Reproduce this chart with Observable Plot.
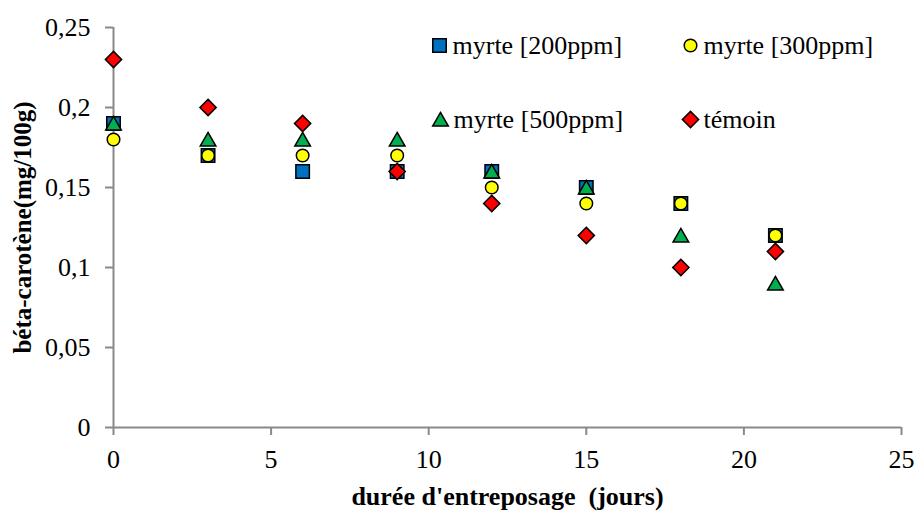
<!DOCTYPE html>
<html>
<head>
<meta charset="utf-8">
<script src="https://cdn.jsdelivr.net/npm/d3@7"></script>
<script src="https://cdn.jsdelivr.net/npm/@observablehq/plot@0.6"></script>
<style>
  html, body { margin: 0; padding: 0; background: #fff; }
  #chart { width: 915px; height: 511px; }
  #chart svg, #chart svg text { font-family: "Liberation Serif", "Times New Roman", serif !important; }
</style>
</head>
<body>
<div id="chart"></div>
<script>
// ---- data ----
const days = [0, 3, 6, 9, 12, 15, 18, 21];
const myrte200 = [0.19, 0.17, 0.16, 0.16, 0.16, 0.15, 0.14, 0.12];
const myrte300 = [0.18, 0.17, 0.17, 0.17, 0.15, 0.14, 0.14, 0.12];
const myrte500 = [0.19, 0.18, 0.18, 0.18, 0.16, 0.15, 0.12, 0.09];
const temoin   = [0.23, 0.20, 0.19, 0.16, 0.14, 0.12, 0.10, 0.11];
const seriesNames = ["myrte [200ppm]", "myrte [300ppm]", "myrte [500ppm]", "témoin"];
const xTicks = [0, 5, 10, 15, 20, 25];
const yTicks = [0, 0.05, 0.1, 0.15, 0.2, 0.25];
const xLabel = "durée d'entreposage  (jours)";
const yLabel = "béta-carotène(mg/100g)";

// ---- styles ----
const styles = [
  {symbol: "square",   fill: "#0070C0", r: 7.6, dy: 0},
  {symbol: "circle",   fill: "#FFFF00", r: 6.3, dy: 0},
  {symbol: "triangle", fill: "#00B050", r: 5.8, dy: 2},
  {symbol: "diamond2", fill: "#FF0000", r: 7.3, dy: 0}
];
const values = [myrte200, myrte300, myrte500, temoin];
// legend layout (pixel offsets from top-left of frame)
const legendPos = [
  {dx: 326, dy: 18}, {dx: 577, dy: 18},
  {dx: 327, dy: 92}, {dx: 577, dy: 92}
];

const fmt = d => String(d).replace(".", ",");
const axisColor = "#898989";
const font = "Liberation Serif, Times New Roman, serif";

const marks = [
  Plot.ruleY([0], {stroke: axisColor, strokeWidth: 2}),
  Plot.ruleX([0], {stroke: axisColor, strokeWidth: 2}),
  Plot.axisX({ticks: xTicks, tickSize: 8, tickPadding: 14, stroke: axisColor, strokeWidth: 2,
              tickFormat: fmt, label: null, fill: "#000", fontFamily: font, fontSize: 26}),
  Plot.axisY({ticks: yTicks, tickSize: 8, tickPadding: 15, stroke: axisColor, strokeWidth: 2,
              tickFormat: fmt, label: null, fill: "#000", fontFamily: font, fontSize: 26}),
];

values.forEach((vals, i) => {
  const st = styles[i];
  const data = days.map((d, j) => ({x: d, y: vals[j]}));
  marks.push(Plot.dot(data, {x: "x", y: "y", symbol: st.symbol, r: st.r, fill: st.fill,
    stroke: "#000", strokeWidth: 1.5, dy: st.dy}));
});

// legend
seriesNames.forEach((name, i) => {
  const st = styles[i], p = legendPos[i];
  marks.push(Plot.dot([name], {frameAnchor: "top-left", dx: p.dx, dy: p.dy + st.dy,
    symbol: st.symbol, r: st.r, fill: st.fill, stroke: "#000", strokeWidth: 1.5}));
  marks.push(Plot.text([name], {frameAnchor: "top-left", dx: p.dx + 13, dy: p.dy,
    text: d => d, textAnchor: "start", lineAnchor: "middle", fontSize: 26, fill: "#000",
    fontFamily: font}));
});

// axis titles
marks.push(Plot.text([xLabel], {frameAnchor: "bottom", dy: 69, text: d => d, textAnchor: "middle",
  fontWeight: "bold", fontSize: 26, lineAnchor: "middle", fill: "#000", fontFamily: font}));
marks.push(Plot.text([yLabel], {frameAnchor: "left", dx: -91, text: d => d, rotate: -90,
  textAnchor: "middle", fontWeight: "bold", fontSize: 25, lineAnchor: "middle", fill: "#000",
  fontFamily: font}));

const chart = Plot.plot({
  width: 915,
  height: 511,
  marginLeft: 113,
  marginRight: 14,
  marginTop: 27,
  marginBottom: 84,
  x: {domain: [0, 25]},
  y: {domain: [0, 0.25]},
  style: {fontFamily: font, fontSize: "26px", background: "#fff", color: "#000", overflow: "visible"},
  marks
});
document.getElementById("chart").appendChild(chart);
</script>
</body>
</html>
